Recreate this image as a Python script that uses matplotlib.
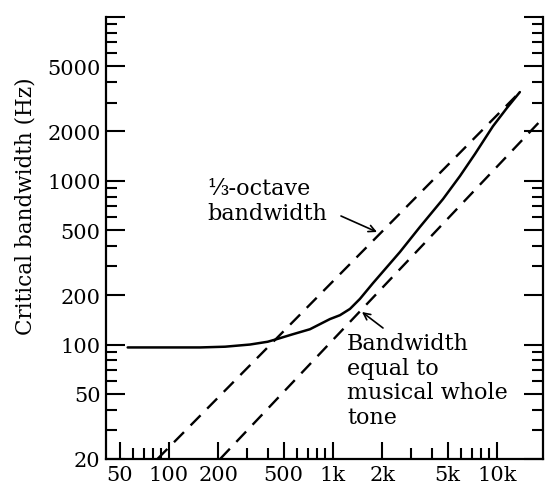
import matplotlib
matplotlib.use("Agg")
import matplotlib.pyplot as plt
from matplotlib.ticker import FixedLocator, NullFormatter

# ---- data ----
cb_freq = [56, 100, 155, 220, 312, 400, 456, 560, 724, 958, 1103, 1270,
           1461, 1754, 2560, 3390, 4690, 5950, 7340, 9450, 11500, 13800]
cb_bw = [96, 96, 96, 97, 100, 104, 108, 115, 124, 143, 151, 165,
         190, 237, 367, 522, 773, 1068, 1455, 2150, 2780, 3480]

third_oct_freq = [85, 13800]
third_oct_bw = [20, 3480]

whole_tone_freq = [205, 19000]
whole_tone_bw = [20, 2400]

x_major = [50, 100, 200, 500, 1000, 2000, 5000, 10000]
x_labels = ["50", "100", "200", "500", "1k", "2k", "5k", "10k"]
x_minor = [60, 70, 80, 90, 300, 400, 600, 700, 800, 900,
           3000, 4000, 6000, 7000, 8000, 9000]

y_major = [20, 50, 100, 200, 500, 1000, 2000, 5000, 10000]
y_labels = ["20", "50", "100", "200", "500", "1000", "2000", "5000", ""]
y_minor = [30, 40, 60, 70, 80, 90, 300, 400, 600, 700, 800, 900,
           3000, 4000, 6000, 7000, 8000, 9000]

FONT = ["DejaVu Serif", "DejaVu Sans"]
plt.rcParams["font.family"] = FONT

fig = plt.figure(figsize=(5.45, 4.89), dpi=100)
ax = fig.add_axes([106 / 545, 29 / 489, 437 / 545, 442 / 489])
ax.set_xscale("log")
ax.set_yscale("log")
ax.set_xlim(41.3, 19100)
ax.set_ylim(20, 10000)

ax.plot(cb_freq, cb_bw, color="black", lw=1.8, solid_capstyle="round",
        solid_joinstyle="round")
ax.plot(third_oct_freq, third_oct_bw, color="black", lw=1.7, dashes=(6, 4))
ax.plot(whole_tone_freq, whole_tone_bw, color="black", lw=1.7, dashes=(6, 4))

for s in ["left", "bottom", "right"]:
    ax.spines[s].set_linewidth(1.6)
ax.spines["top"].set_visible(False)

ax.xaxis.set_major_locator(FixedLocator(x_major))
ax.xaxis.set_minor_locator(FixedLocator(x_minor))
ax.set_xticklabels(x_labels)
ax.xaxis.set_minor_formatter(NullFormatter())
ax.yaxis.set_major_locator(FixedLocator(y_major))
ax.yaxis.set_minor_locator(FixedLocator(y_minor))
ax.set_yticklabels(y_labels)
ax.yaxis.set_minor_formatter(NullFormatter())

ax.tick_params(axis="y", which="major", direction="in", length=14,
               width=1.5, labelsize=15, pad=4)
ax.tick_params(axis="x", which="major", direction="in", length=12,
               width=1.5, labelsize=15, pad=4)
ax.tick_params(axis="both", which="minor", direction="in", length=8,
               width=1.5)
ax.tick_params(axis="y", which="both", right=True, labelright=False)
ax.tick_params(axis="x", which="both", top=False)

ax.set_ylabel("Critical bandwidth (Hz)", fontsize=15.5)


def fx(px):
    return (px - 106) / 437


def fy(py):
    return (460 - py) / 442


ax.yaxis.set_label_coords(fx(37), fy(206))

ax.text(fx(207), fy(178), "\u2153-octave\nbandwidth", transform=ax.transAxes,
        fontsize=16, va="top", ha="left", linespacing=1.15)
ax.annotate("", xy=(fx(377), fy(233)), xytext=(fx(341), fy(217)),
            xycoords="axes fraction", textcoords="axes fraction",
            arrowprops=dict(arrowstyle="->", lw=1.2, color="black",
                            shrinkA=0, shrinkB=0, mutation_scale=12))

ax.text(fx(347), fy(333), "Bandwidth\nequal to\nmusical whole\ntone",
        transform=ax.transAxes, fontsize=16, va="top", ha="left",
        linespacing=1.15)
ax.annotate("", xy=(fx(362), fy(313)), xytext=(fx(383), fy(329)),
            xycoords="axes fraction", textcoords="axes fraction",
            arrowprops=dict(arrowstyle="->", lw=1.2, color="black",
                            shrinkA=0, shrinkB=0, mutation_scale=12))

fig.savefig("out.png", dpi=100)
